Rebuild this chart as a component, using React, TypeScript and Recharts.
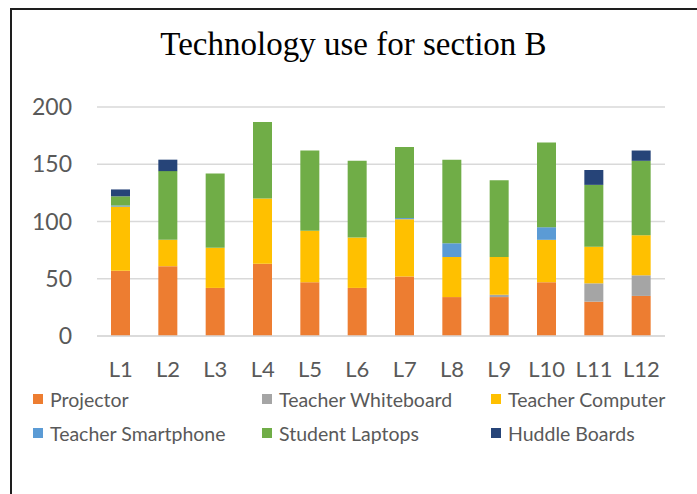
import React from 'react';
import { BarChart, Bar, XAxis, YAxis, CartesianGrid, Legend } from 'recharts';

const categories = ['L1', 'L2', 'L3', 'L4', 'L5', 'L6', 'L7', 'L8', 'L9', 'L10', 'L11', 'L12'];
const projector = [57, 61, 42, 63, 47, 42, 52, 34, 34, 47, 30, 35];
const whiteboard = [0, 0, 0, 0, 0, 0, 0, 0, 2, 0, 16, 18];
const computer = [56, 23, 35, 57, 45, 44, 50, 35, 33, 37, 32, 35];
const smartphone = [1, 0, 0, 0, 0, 0, 1, 12, 0, 11, 0, 0];
const laptops = [8, 60, 65, 67, 70, 67, 62, 73, 67, 74, 54, 65];
const huddle = [6, 10, 0, 0, 0, 0, 0, 0, 0, 0, 13, 9];
const yTicks = [0, 50, 100, 150, 200];

const seriesNames = ['Projector', 'Teacher Whiteboard', 'Teacher Computer', 'Teacher Smartphone', 'Student Laptops', 'Huddle Boards'];
const seriesKeys = ['projector', 'whiteboard', 'computer', 'smartphone', 'laptops', 'huddle'];
const seriesColors = ['#ED7D31', '#A5A5A5', '#FFC000', '#5B9BD5', '#70AD47', '#264478'];

const data = categories.map((c, i) => ({
  name: c,
  projector: projector[i],
  whiteboard: whiteboard[i],
  computer: computer[i],
  smartphone: smartphone[i],
  laptops: laptops[i],
  huddle: huddle[i],
}));

const FONT = 'Lato, "Noto Sans", sans-serif';

const LegendContent = () => (
  <div style={{ position: 'relative', width: 697, height: 90, fontFamily: FONT }}>
    {seriesNames.map((n, i) => {
      const col = i % 3;
      const row = Math.floor(i / 3);
      return (
        <div
          key={n}
          style={{
            position: 'absolute',
            left: 33 + col * 229,
            top: 19 - 12 + row * 34,
            height: 24,
            display: 'flex',
            alignItems: 'center',
            whiteSpace: 'nowrap',
          }}
        >
          <span style={{ display: 'inline-block', width: 10, height: 10, background: seriesColors[i], marginRight: 7 }} />
          <span style={{ fontSize: 19.5, color: '#595959' }}>{n}</span>
        </div>
      );
    })}
  </div>
);

export default function App() {
  return (
    <div style={{ position: 'absolute', left: 0, top: 0, width: 697, height: 494, background: '#fff', overflow: 'hidden' }}>
      <div
        style={{
          position: 'absolute',
          left: 10,
          top: 8,
          width: 720,
          height: 520,
          border: '2px solid #1e1e1e',
          boxSizing: 'border-box',
        }}
      />
      <div
        style={{
          position: 'absolute',
          left: 0,
          width: 707,
          top: 24,
          textAlign: 'center',
          fontFamily: '"Liberation Serif", "Times New Roman", serif',
          fontSize: 33,
          lineHeight: '40px',
          color: '#000',
        }}
      >
        Technology use for section B
      </div>
      <div style={{ position: 'absolute', left: 0, top: 0 }}>
        <BarChart
          width={697}
          height={494}
          data={data}
          margin={{ top: 107, right: 32, bottom: 24, left: 0 }}
          barSize={19}
        >
          <CartesianGrid vertical={false} stroke="#d9d9d9" strokeWidth={1.5} />
          <XAxis
            dataKey="name"
            height={44}
            tickLine={false}
            axisLine={{ stroke: '#d9d9d9', strokeWidth: 1.5 }}
            tick={{ fill: '#595959', fontSize: 22, fontFamily: FONT }}
            tickMargin={19}
            interval={0}
          />
          <YAxis
            width={97}
            domain={[0, 200]}
            ticks={yTicks}
            tickLine={false}
            axisLine={false}
            tick={{ fill: '#595959', fontSize: 23, fontFamily: FONT }}
            tickMargin={19}
          />
          <Legend verticalAlign="bottom" height={90} content={() => <LegendContent />} />
          {seriesKeys.map((k, i) => (
            <Bar key={k} dataKey={k} name={seriesNames[i]} stackId="a" fill={seriesColors[i]} isAnimationActive={false} />
          ))}
        </BarChart>
      </div>
    </div>
  );
}
